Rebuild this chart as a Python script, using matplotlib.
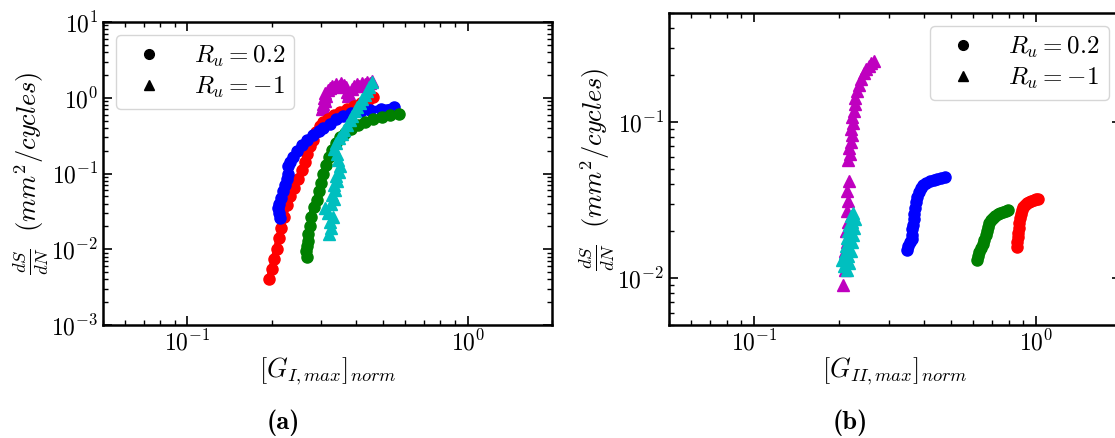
import os
import numpy as np
import matplotlib
matplotlib.use('Agg')
import matplotlib.pyplot as plt
from matplotlib.lines import Line2D
from matplotlib.font_manager import FontProperties

plt.rcParams['font.family'] = 'serif'
plt.rcParams['font.serif'] = ['cmr10']
plt.rcParams['mathtext.fontset'] = 'cm'
plt.rcParams['axes.formatter.use_mathtext'] = True

# ---- panel (a): mode I ----
red_I_x = [0.196, 0.200, 0.204, 0.208, 0.212, 0.216, 0.221, 0.226, 0.233, 0.240, 0.248, 0.256, 0.262, 0.268,
           0.274, 0.280, 0.288, 0.298, 0.306, 0.318, 0.333, 0.350, 0.371, 0.393, 0.416, 0.440, 0.459]
red_I_y = [0.0040, 0.0055, 0.0075, 0.010, 0.014, 0.019, 0.027, 0.038, 0.050, 0.065, 0.085, 0.11, 0.14, 0.18,
           0.23, 0.28, 0.35, 0.42, 0.48, 0.53, 0.59, 0.65, 0.71, 0.79, 0.86, 0.94, 1.01]

blue_I_x = [0.214, 0.212, 0.211, 0.212, 0.215, 0.219, 0.223, 0.226, 0.229, 0.228, 0.232, 0.238, 0.246, 0.256,
            0.267, 0.280, 0.294, 0.306, 0.322, 0.340, 0.360, 0.385, 0.415, 0.450, 0.490, 0.545]
blue_I_y = [0.026, 0.030, 0.035, 0.040, 0.048, 0.058, 0.070, 0.085, 0.10, 0.125, 0.14, 0.165, 0.20, 0.235,
            0.275, 0.32, 0.36, 0.395, 0.45, 0.52, 0.57, 0.62, 0.66, 0.69, 0.72, 0.76]

green_I_x = [0.267, 0.266, 0.267, 0.269, 0.270, 0.273, 0.277, 0.282, 0.289, 0.296, 0.301, 0.306, 0.313, 0.320,
             0.328, 0.338, 0.350, 0.365, 0.383, 0.405, 0.430, 0.460, 0.495, 0.530, 0.567]
green_I_y = [0.008, 0.0095, 0.011, 0.013, 0.016, 0.020, 0.027, 0.036, 0.045, 0.058, 0.075, 0.10, 0.13, 0.165,
             0.205, 0.25, 0.30, 0.34, 0.39, 0.44, 0.48, 0.52, 0.56, 0.59, 0.61]

cyan_I_x = [0.319, 0.325, 0.322, 0.330, 0.318, 0.311, 0.326, 0.333, 0.329, 0.337, 0.334, 0.342, 0.338, 0.347,
            0.351, 0.344, 0.342, 0.333, 0.338, 0.348, 0.355, 0.362, 0.372, 0.381, 0.388, 0.395, 0.403, 0.412,
            0.421, 0.430, 0.437, 0.446, 0.456]
cyan_I_y = [0.016, 0.019, 0.023, 0.027, 0.030, 0.035, 0.040, 0.046, 0.052, 0.060, 0.070, 0.080, 0.092, 0.105,
            0.125, 0.15, 0.18, 0.21, 0.25, 0.29, 0.33, 0.38, 0.44, 0.51, 0.58, 0.67, 0.76, 0.85,
            0.95, 1.08, 1.22, 1.40, 1.63]

mag_I_x = [0.302, 0.306, 0.304, 0.310, 0.307, 0.313, 0.311, 0.318, 0.322, 0.328, 0.334, 0.340, 0.347, 0.354,
           0.361, 0.368, 0.372, 0.373, 0.378, 0.386, 0.394, 0.402, 0.411, 0.420, 0.429, 0.438, 0.447, 0.456]
mag_I_y = [0.70, 0.76, 0.83, 0.90, 0.98, 1.06, 1.15, 1.25, 1.36, 1.45, 1.38, 1.50, 1.42, 1.55,
           1.46, 1.40, 1.20, 1.05, 1.12, 1.30, 1.45, 1.52, 1.42, 1.58, 1.50, 1.62, 1.55, 1.68]

# ---- panel (b): mode II ----
red_II_x = [0.855, 0.858, 0.861, 0.864, 0.867, 0.871, 0.876, 0.882, 0.890, 0.900, 0.912, 0.926, 0.942, 0.960,
            0.980, 1.000, 1.020]
red_II_y = [0.0159, 0.0170, 0.0182, 0.0195, 0.0210, 0.0226, 0.0243, 0.0258, 0.0272, 0.0284, 0.0294, 0.0302,
            0.0308, 0.0313, 0.0317, 0.0320, 0.0322]

blue_II_x = [0.348, 0.352, 0.358, 0.363, 0.362, 0.364, 0.367, 0.368, 0.370, 0.372, 0.375, 0.379, 0.384, 0.390,
             0.398, 0.408, 0.420, 0.433, 0.446, 0.460, 0.476]
blue_II_y = [0.0151, 0.0160, 0.0170, 0.0178, 0.0190, 0.0205, 0.0220, 0.0238, 0.0258, 0.0280, 0.0305, 0.0330,
             0.0355, 0.0378, 0.0395, 0.0408, 0.0418, 0.0426, 0.0433, 0.0438, 0.0443]

green_II_x = [0.616, 0.622, 0.630, 0.638, 0.646, 0.654, 0.662, 0.668, 0.674, 0.680, 0.690, 0.702, 0.716, 0.730,
              0.746, 0.762, 0.780, 0.798]
green_II_y = [0.0130, 0.0138, 0.0146, 0.0155, 0.0165, 0.0176, 0.0188, 0.0200, 0.0212, 0.0224, 0.0235, 0.0244,
              0.0251, 0.0257, 0.0263, 0.0267, 0.0270, 0.0273]

cyan_II_x = [0.214, 0.208, 0.218, 0.205, 0.216, 0.210, 0.220, 0.212, 0.222, 0.214, 0.224, 0.216, 0.226, 0.218,
             0.222, 0.228, 0.220, 0.225]
cyan_II_y = [0.0113, 0.0120, 0.0125, 0.0130, 0.0138, 0.0145, 0.0150, 0.0160, 0.0170, 0.0180, 0.0190, 0.0200,
             0.0210, 0.0220, 0.0230, 0.0240, 0.0250, 0.0260]

mag_II_x = [0.207, 0.211, 0.213, 0.210, 0.214, 0.212, 0.215, 0.213, 0.216, 0.214, 0.217, 0.216, 0.219, 0.217,
            0.220, 0.222, 0.221, 0.224, 0.223, 0.226, 0.229, 0.228, 0.232, 0.236, 0.240, 0.245, 0.250, 0.256,
            0.261, 0.266]
mag_II_y = [0.009, 0.0113, 0.013, 0.015, 0.017, 0.020, 0.023, 0.027, 0.031, 0.036, 0.042, 0.057, 0.062, 0.068,
            0.075, 0.083, 0.090, 0.098, 0.107, 0.118, 0.130, 0.143, 0.157, 0.172, 0.190, 0.205, 0.218, 0.230,
            0.240, 0.248]

legend_labels = [r'$R_u = 0.2$', r'$R_u = -1$']

bold_font = FontProperties(fname=os.path.join(matplotlib.get_data_path(), 'fonts', 'ttf', 'cmb10.ttf'), size=19)


def style_axes(ax):
    ax.set_xscale('log')
    ax.set_yscale('log')
    ax.set_xlim(0.05, 2)
    for s in ax.spines.values():
        s.set_linewidth(1.8)
    ax.tick_params(which='both', direction='in', top=True, right=True, labelsize=17)
    ax.tick_params(which='major', length=6.5, width=1.2)
    ax.tick_params(which='minor', length=3.5, width=1.0)


def circles(ax, x, y, c):
    ax.plot(x, y, color=c, marker='o', ms=8, lw=5, solid_capstyle='round')


def triangles(ax, x, y, c):
    ax.plot(x, y, color=c, marker='^', ms=8, lw=0)


handles = [Line2D([], [], color='k', marker='o', ls='none', ms=7),
           Line2D([], [], color='k', marker='^', ls='none', ms=7)]

fig = plt.figure(figsize=(11.15, 4.38), dpi=100)

ax1 = fig.add_axes([103 / 1115, 113 / 438, 449 / 1115, 303 / 438])
style_axes(ax1)
ax1.set_ylim(1e-3, 10)
triangles(ax1, mag_I_x, mag_I_y, 'm')
circles(ax1, red_I_x, red_I_y, 'r')
circles(ax1, blue_I_x, blue_I_y, 'b')
circles(ax1, green_I_x, green_I_y, 'g')
triangles(ax1, cyan_I_x, cyan_I_y, 'c')
ax1.set_xlabel(r'$[G_{I,max}]_{norm}$', fontsize=19, labelpad=0)
ax1.set_ylabel(r'$\frac{dS}{dN}\ \ (mm^2/cycles)$', fontsize=19, labelpad=0)
ax1.legend(handles, legend_labels, loc='upper left', fontsize=18, labelspacing=0.25, borderpad=0.35)

ax2 = fig.add_axes([669 / 1115, 113 / 438, 452 / 1115, 312 / 438])
style_axes(ax2)
ax2.set_ylim(5e-3, 0.5)
triangles(ax2, mag_II_x, mag_II_y, 'm')
triangles(ax2, cyan_II_x, cyan_II_y, 'c')
circles(ax2, blue_II_x, blue_II_y, 'b')
circles(ax2, green_II_x, green_II_y, 'g')
circles(ax2, red_II_x, red_II_y, 'r')
ax2.set_xlabel(r'$[G_{II,max}]_{norm}$', fontsize=19, labelpad=0)
ax2.set_ylabel(r'$\frac{dS}{dN}\ \ (mm^2/cycles)$', fontsize=19, labelpad=0)
ax2.legend(handles, legend_labels, loc='upper right', fontsize=18, labelspacing=0.25, borderpad=0.35)

fig.text(283 / 1115, 1 - 423 / 438, '(a)', ha='center', va='center', fontproperties=bold_font)
fig.text(850 / 1115, 1 - 423 / 438, '(b)', ha='center', va='center', fontproperties=bold_font)

fig.savefig('out.png', dpi=100)
